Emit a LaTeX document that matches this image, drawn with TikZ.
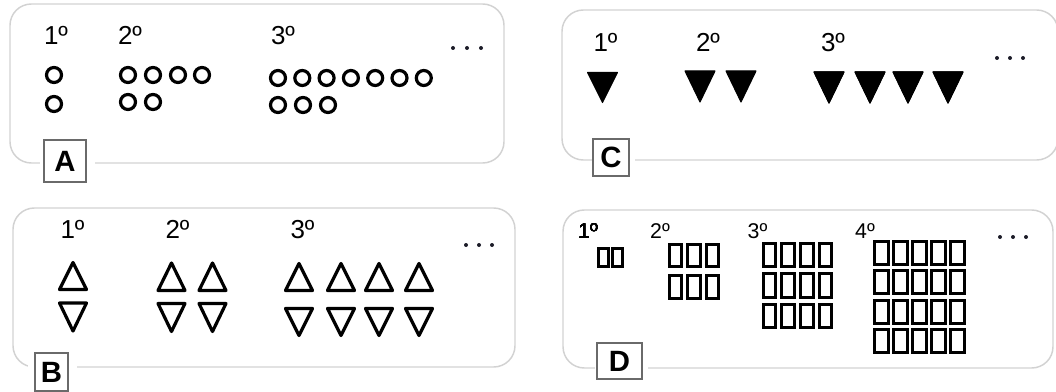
\documentclass[tikz,border=0pt]{standalone}
\usepackage{fontspec}
\setmainfont{Liberation Sans}
\definecolor{framec}{HTML}{D2D2D2}
\definecolor{boxc}{HTML}{6A6A6A}
\definecolor{dotc}{HTML}{1C1C28}
\newcommand\uptri[3]{\draw[tri] (#1,#2) -- ++(-13.5,#3) -- ++(27,0) -- cycle;}
\newcommand\dntri[3]{\draw[tri] (#1-13.5,#2) -- ++(27,0) -- ++(-13.5,#3) -- cycle;}
\newcommand\fdtri[3]{\filldraw[ftri] (#1-15,#2) -- ++(30,0) -- ++(-15,#3) -- cycle;}
\begin{document}
\begin{tikzpicture}[x=0.75pt,y=-0.75pt,
  frame/.style={draw=framec,line width=1.1pt,rounded corners=16pt},
  num/.style={anchor=base,inner sep=0pt,font=\fontsize{19.5}{22}\selectfont},
  numd/.style={anchor=base,inner sep=0pt,font=\fontsize{16}{18}\selectfont},
  lbl/.style={draw=boxc,line width=1pt,fill=white,inner sep=0pt,font=\bfseries\fontsize{22}{24}\selectfont},
  ring/.style={draw=black,line width=2.4pt},
  tri/.style={draw=black,line width=2.4pt,line join=round},
  ftri/.style={fill=black,draw=black,line width=0.8pt,line join=round},
  cell/.style={draw=black,line width=2.2pt}]
\useasboundingbox (0,0) rectangle (1056,392);
% frames
\draw[frame] (10,4) rectangle (504,163);
\draw[frame] (13,208) rectangle (515,367);
\draw[frame] (562,10) rectangle (1058,160);
\draw[frame] (563,210) rectangle (1053,368);
% gaps in frames
\fill[white] (40,158) rectangle (95,168);
\fill[white] (28,362) rectangle (77,372);
\fill[white] (592,155) rectangle (635,165);
\fill[white] (595,363) rectangle (648,373);
% labels
\node[lbl,minimum width=31.5pt,minimum height=31.5pt] (labA) at (65,161) {A};
\node[lbl,minimum width=24.75pt,minimum height=28.5pt] (labB) at (51.5,372) {B};
\node[lbl,minimum width=27pt,minimum height=27.75pt] (labC) at (611,157.5) {C};
\node[lbl,minimum width=33.75pt,minimum height=27pt] (labD) at (619.5,361) {D};
% ---------- Panel A ----------
\node[num] (a1) at (56,45) {1º};
\node[num] (a2) at (130,45) {2º};
\node[num] (a3) at (283,45) {3º};
\foreach \x in {453,467,481} \fill[dotc] (\x,48) circle (2);
\draw[ring] (54,75) circle (7.5);
\draw[ring] (54,104) circle (7.5);
\foreach \x in {128,153,178,202} \draw[ring] (\x,75) circle (7.5);
\foreach \x in {128,153} \draw[ring] (\x,102) circle (7.5);
\foreach \k in {0,...,6} \draw[ring] (278+24.3*\k,78) circle (7.5);
\foreach \x in {278,303,328} \draw[ring] (\x,105) circle (7.5);
% ---------- Panel B ----------
\node[num] (b1) at (72.5,238) {1º};
\node[num] (b2) at (177.5,238) {2º};
\node[num] (b3) at (302.5,238) {3º};
\foreach \x in {466,479,492} \fill[dotc] (\x,245) circle (2);
\uptri{73}{262.5}{27}
\dntri{73}{303}{28}
\foreach \x in {171.5,212.5} {\uptri{\x}{263}{27.5}\dntri{\x}{303.5}{28}}
\foreach \x in {299,341,379,419} {\uptri{\x}{263.5}{27}\dntri{\x}{308.5}{27}}
% ---------- Panel C ----------
\node[num] (c1) at (605.5,52) {1º};
\node[num] (c2) at (708,52) {2º};
\node[num] (c3) at (833,52) {3º};
\foreach \x in {997,1010,1023} \fill[dotc] (\x,58) circle (2);
\fdtri{602.5}{72.5}{30}
\foreach \x in {700,741} \fdtri{\x}{71}{31}
\foreach \x in {829,870,908,948} \fdtri{\x}{72}{31}
% ---------- Panel D ----------
\node[numd] (d1) at (588,238) {1º};
\node[numd] (d2) at (660,238) {2º};
\node[numd] (d3) at (757.5,238) {3º};
\node[numd] (d4) at (865,238) {4º};
\foreach \x in {1000,1013,1026} \fill[dotc] (\x,237) circle (2);
\foreach \i in {0,1} \draw[cell] (598.25+14.5*\i,248.25) rectangle ++(10,18.5);
\foreach \i in {0,1,2} \foreach \j in {0,1} \draw[cell] (669.25+18.5*\i,244.25+31.5*\j) rectangle ++(12.5,22.5);
\foreach \i in {0,...,3} \foreach \j in {0,1,2} \draw[cell] (763.25+18.7*\i,243.25+30.5*\j) rectangle ++(12.5,23.5);
\foreach \i in {0,...,4} \foreach \j in {0,...,3} \draw[cell] (874.25+19*\i,241.25+29.5*\j) rectangle ++(14,23);
\end{tikzpicture}
\end{document}
